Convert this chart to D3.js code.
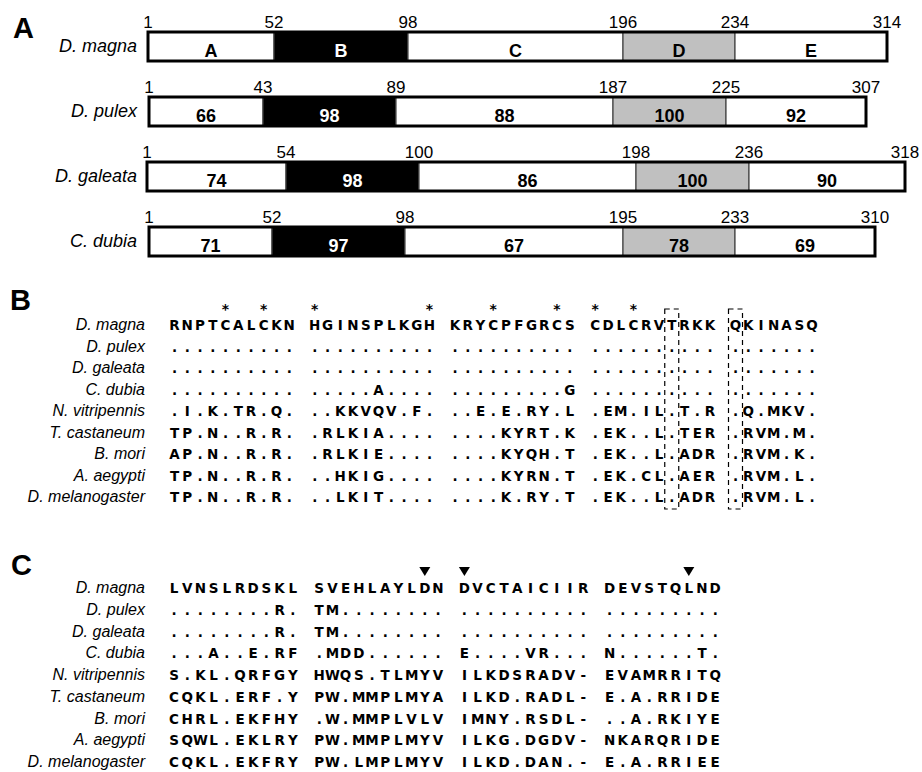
<!DOCTYPE html>
<html>
<head>
<meta charset="utf-8">
<script src="https://cdn.jsdelivr.net/npm/d3@7"></script>
<style>
  body { margin: 0; background: #fff; }
  svg { display: block; }
</style>
</head>
<body>
<svg id="fig" width="922" height="772"></svg>
<script>
// ---- Panel A: domain organisation ----
const domainSpecies = ["D. magna", "D. pulex", "D. galeata", "C. dubia"];
const domainBounds = [
  [1, 52, 98, 196, 234, 314],
  [1, 43, 89, 187, 225, 307],
  [1, 54, 100, 198, 236, 318],
  [1, 52, 98, 195, 233, 310]
];
const segmentLabels = [
  ["A", "B", "C", "D", "E"],
  ["66", "98", "88", "100", "92"],
  ["74", "98", "86", "100", "90"],
  ["71", "97", "67", "78", "69"]
];

// ---- Panels B and C: alignments ----
const alignSpecies = ["D. magna", "D. pulex", "D. galeata", "C. dubia", "N. vitripennis",
  "T. castaneum", "B. mori", "A. aegypti", "D. melanogaster"];
const seqB = [
  "RNPTCALCKN HGINSPLKGH KRYCPFGRCS CDLCRVTRKK QKINASQ",
  ".......... .......... .......... .......... .......",
  ".......... .......... .......... .......... .......",
  ".......... .....A.... .........G .......... .......",
  ".I.K.TR.Q. ..KKVQV.F. ..E.E.RY.L .EM.IL.T.R .Q.MKV.",
  "TP.N..R.R. .RLKIA.... ....KYRT.K .EK..L.TER .RVM.M.",
  "AP.N..R.R. .RLKIE.... ....KYQH.T .EK..L.ADR .RVM.K.",
  "TP.N..R.R. ..HKIG.... ....KYRN.T .EK.CL.AER .RVM.L.",
  "TP.N..R.R. ..LKIT.... ....K.RY.T .EK..L.ADR .RVM.L."
];
const starResidues = [5, 8, 11, 20, 24, 29, 31, 34];
const boxedResidues = [37, 41];

const seqC = [
  "LVNSLRDSKL SVEHLAYLDN DVCTAICIIR DEVSTQLND",
  "........R. TM........ .......... .........",
  "........R. TM........ .......... .........",
  "...A..E.RF .MDD...... E....VR... N......T.",
  "S.KL.QRFGY HWQS.TLMYV ILKDSRADV- EVAMRRITQ",
  "CQKL.ERF.Y PW.MMPLMYA ILKD.RADL- E.A.RRIDE",
  "CHRL.EKFHY .W.MMPLVLV IMNY.RSDL- ..A.RKIYE",
  "SQWL.EKLRY PW.MMPLMYV ILKG.DGDV- NKARQRIDE",
  "CQKL.EKFRY PW.LMPLMYV ILKD.DAN.- E.A.RRIEE"
];
const triangleResidues = [19, 21, 37];

// ---- layout ----
const svg = d3.select("#fig");
const SANS = "Liberation Sans, Arial, sans-serif";
const SEQFONT = "DejaVu Sans, Verdana, sans-serif";

// Schematic track: each species' domain boundaries are placed on a common drawn track
const trackX = [
  [148, 274, 408, 623, 735, 887],
  [149, 263, 396, 613, 726, 866],
  [147, 286, 419, 636, 749, 905],
  [149, 272, 405, 623, 735, 875]
];
const segFill = ["#ffffff", "#000000", "#ffffff", "#c0c0c0", "#ffffff"];
const segText = ["#000", "#fff", "#000", "#000", "#000"];
const barH = 29;
const barY = d3.scalePoint().domain(domainSpecies).range([32, 227]);

// panel letters
const panelLetters = [["A", 13, 38], ["B", 10, 310], ["C", 11, 575]];
svg.selectAll("text.panel").data(panelLetters).join("text")
  .attr("class", "panel")
  .attr("x", d => d[1]).attr("y", d => d[2])
  .attr("font-family", SANS).attr("font-weight", "bold").attr("font-size", 29)
  .text(d => d[0]);

const gA = svg.append("g");
domainSpecies.forEach((sp, i) => {
  const b = domainBounds[i];
  const x = d3.scaleLinear().domain(b).range(trackX[i]);
  const y0 = barY(sp);
  const g = gA.append("g");
  const segs = d3.range(b.length - 1).map(k => ({ k, from: b[k], to: b[k + 1], label: segmentLabels[i][k] }));

  g.selectAll("rect.seg").data(segs).join("rect")
    .attr("class", "seg")
    .attr("x", d => x(d.from)).attr("y", y0)
    .attr("width", d => x(d.to) - x(d.from)).attr("height", barH)
    .attr("fill", d => segFill[d.k])
    .attr("stroke", "#444").attr("stroke-width", 1.2);

  g.append("rect")
    .attr("x", x(b[0])).attr("y", y0)
    .attr("width", x(b[b.length - 1]) - x(b[0])).attr("height", barH)
    .attr("fill", "none").attr("stroke", "#000").attr("stroke-width", 3);

  g.selectAll("text.seglab").data(segs).join("text")
    .attr("class", "seglab")
    .attr("x", d => (x(d.from) + x(d.to)) / 2).attr("y", y0 + barH - 4)
    .attr("text-anchor", "middle")
    .attr("font-family", SANS).attr("font-weight", "bold").attr("font-size", 18)
    .attr("fill", d => segText[d.k])
    .text(d => d.label);

  g.selectAll("text.pos").data(b).join("text")
    .attr("class", "pos")
    .attr("x", d => x(d)).attr("y", y0 - 4)
    .attr("text-anchor", "middle")
    .attr("font-family", SANS).attr("font-size", 17)
    .text(d => d);

  g.append("text")
    .attr("x", 137).attr("y", y0 + 20)
    .attr("text-anchor", "end")
    .attr("font-family", SANS).attr("font-style", "italic").attr("font-size", 18)
    .text(sp);
});

// residue number (1-based, D. magna) -> alignment column including block gaps
const residueCol = r => (r - 1) + Math.floor((r - 1) / 10);

function drawAlignment(seqs, x0, pitch, yTop, yBottom) {
  const ncols = seqs[0].length;
  const x = d3.scaleLinear().domain([0, ncols - 1]).range([x0, x0 + pitch * (ncols - 1)]);
  const y = d3.scalePoint().domain(alignSpecies).range([yTop, yBottom]);
  const g = svg.append("g");

  g.selectAll("text.name").data(alignSpecies).join("text")
    .attr("class", "name")
    .attr("x", 145).attr("y", d => y(d))
    .attr("text-anchor", "end")
    .attr("font-family", SANS).attr("font-style", "italic").attr("font-size", 16)
    .text(d => d);

  const cells = [];
  seqs.forEach((s, r) => {
    s.split("").forEach((c, j) => { if (c !== " ") cells.push({ sp: alignSpecies[r], c, j }); });
  });
  g.selectAll("text.res").data(cells).join("text")
    .attr("class", "res")
    .attr("x", d => x(d.j)).attr("y", d => y(d.sp))
    .attr("text-anchor", "middle")
    .attr("font-family", SEQFONT).attr("font-weight", "bold").attr("font-size", 13.5)
    .text(d => d.c);
  return { g, x, y };
}

// Panel B
const B = drawAlignment(seqB, 174.5, 12.75, 330, 502);
B.g.selectAll("text.star").data(starResidues).join("text")
  .attr("class", "star")
  .attr("x", d => B.x(residueCol(d))).attr("y", B.y(alignSpecies[0]) - 16)
  .attr("text-anchor", "middle")
  .attr("font-family", SEQFONT).attr("font-weight", "bold").attr("font-size", 14)
  .text("*");
B.g.selectAll("rect.box").data(boxedResidues).join("rect")
  .attr("class", "box")
  .attr("x", d => B.x(residueCol(d)) - 7)
  .attr("y", B.y(alignSpecies[0]) - 21)
  .attr("width", 14)
  .attr("height", B.y(alignSpecies[alignSpecies.length - 1]) - B.y(alignSpecies[0]) + 28)
  .attr("fill", "none").attr("stroke", "#000").attr("stroke-width", 1.2)
  .attr("stroke-dasharray", "5,4");

// Panel C
const C = drawAlignment(seqC, 174, 13.2, 593, 767);
C.g.selectAll("path.tri").data(triangleResidues).join("path")
  .attr("class", "tri")
  .attr("d", d => {
    const cx = C.x(residueCol(d)), top = C.y(alignSpecies[0]) - 26;
    return `M${cx - 5.5},${top}L${cx + 5.5},${top}L${cx},${top + 9}Z`;
  })
  .attr("fill", "#000");
</script>
</body>
</html>
